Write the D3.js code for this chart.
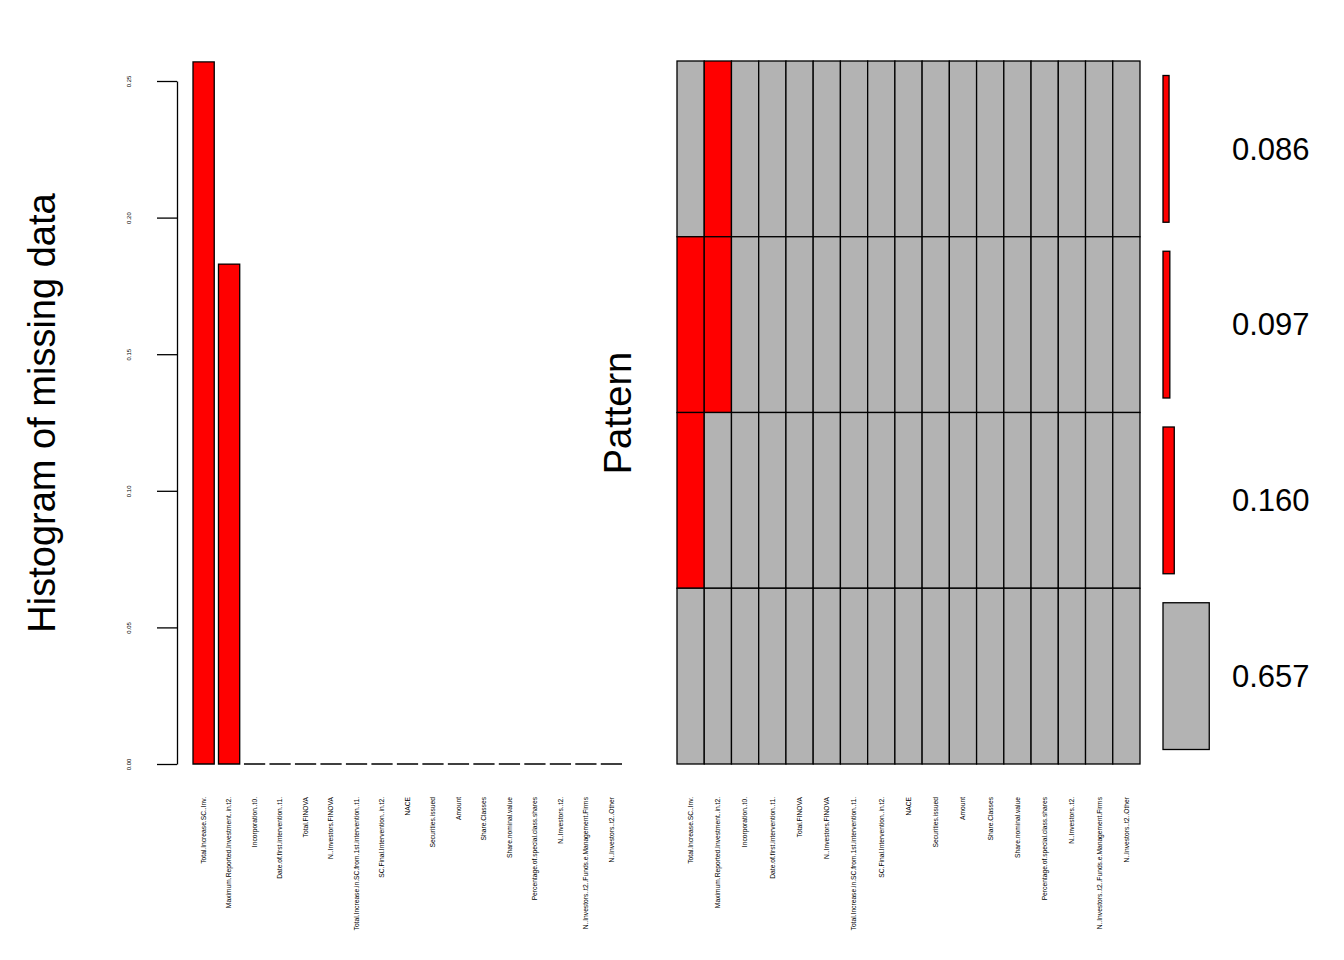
<!DOCTYPE html>
<html><head><meta charset="utf-8">
<script src="https://cdn.jsdelivr.net/npm/d3@7"></script>
<style>body{margin:0;background:#fff}svg{display:block}text{font-family:"Liberation Sans",Arial,Helvetica,sans-serif}</style>
</head><body><svg id="c" width="1344" height="960"></svg>
<script>
const variables = ["Total.Increase.SC..Inv.","Maximum.Reported.Investment..in.t2.","Incorporation..t0.","Date.of.first.intervention..t1.","Total.FINOVA","N..Investors.FINOVA","Total.Increase.in.SC.from.1st.intervention..t1.","SC.Final.Intervention..in.t2.","NACE","Securities.issued","Amount","Share.Classes","Share.nominal.value","Percentage.of.special.class.shares","N..Investors..t2.","N..Investors..t2..Funds.e.Management.Firms","N..Investors..t2..Other"];
const missProp = [0.257,0.183,0,0,0,0,0,0,0,0,0,0,0,0,0,0,0];
const yTicks = [0,0.05,0.10,0.15,0.20,0.25];
// missing patterns (1 = missing), top to bottom
const patterns = [
  [0,1,0,0,0,0,0,0,0,0,0,0,0,0,0,0,0],
  [1,1,0,0,0,0,0,0,0,0,0,0,0,0,0,0,0],
  [1,0,0,0,0,0,0,0,0,0,0,0,0,0,0,0,0],
  [0,0,0,0,0,0,0,0,0,0,0,0,0,0,0,0,0]
];
const patternProp = [0.086,0.097,0.160,0.657];
const patternLabels = ["0.086","0.097","0.160","0.657"];

const RED="#FF0000", GREY="#B3B3B3";
const svg = d3.select("#c");

// ---------- Left histogram ----------
const x = d3.scaleBand().domain(variables).range([193,622]).paddingInner(0.2/1.2).paddingOuter(0);
const y = d3.scaleLinear().domain([0,0.25]).range([764,81]);

svg.append("g").selectAll("path").data(variables).join("path")
  .attr("d", (d,i)=>{
    const p = d3.path(), x0 = x(d), w = x.bandwidth(), y0 = y(0), y1 = y(missProp[i]);
    p.moveTo(x0,y0); p.lineTo(x0,y1); p.lineTo(x0+w,y1); p.lineTo(x0+w,y0); p.closePath();
    return p.toString();
  })
  .attr("fill",RED).attr("stroke","#000").attr("stroke-width",1.3);

const yAxis = d3.axisLeft(y).tickValues(yTicks).tickFormat(d3.format(".2f")).tickSize(20).tickSizeOuter(0);
const ga = svg.append("g").attr("transform","translate(177,0)").call(yAxis);
ga.select(".domain").attr("stroke","#000").attr("stroke-width",1.3);
ga.selectAll(".tick line").attr("stroke","#000").attr("stroke-width",1.3);
ga.selectAll(".tick text").attr("font-size",6).attr("fill","#000")
  .attr("text-anchor","middle").attr("x",0)
  .attr("transform","translate(-48,0) rotate(-90)").attr("dy","0.35em");

svg.append("g").selectAll("text").data(variables).join("text")
  .attr("transform", d=>`translate(${x(d)+x.bandwidth()/2},797) rotate(-90)`)
  .attr("text-anchor","end").attr("dy","0.35em").attr("font-size",6.7).attr("fill","#000")
  .text(d=>d);

svg.append("text").attr("transform","translate(42,413) rotate(-90)")
  .attr("text-anchor","middle").attr("dy","0.35em").attr("font-size",38).text("Histogram of missing data");

// ---------- Right pattern ----------
const xp = d3.scaleBand().domain(variables).range([677,1140]);
const yp = d3.scaleBand().domain(d3.range(patterns.length)).range([61,764]);

const cells = [];
patterns.forEach((row,r)=>row.forEach((v,c)=>cells.push({r,c,v})));
svg.append("g").selectAll("rect").data(cells).join("rect")
  .attr("x",d=>xp(variables[d.c])).attr("y",d=>yp(d.r))
  .attr("width",xp.bandwidth()).attr("height",yp.bandwidth())
  .attr("fill",d=>d.v?RED:GREY).attr("stroke","#000").attr("stroke-width",1.3);

svg.append("g").selectAll("text").data(variables).join("text")
  .attr("transform", d=>`translate(${xp(d)+xp.bandwidth()/2},797) rotate(-90)`)
  .attr("text-anchor","end").attr("dy","0.35em").attr("font-size",6.7).attr("fill","#000")
  .text(d=>d);

svg.append("text").attr("transform","translate(618,413) rotate(-90)")
  .attr("text-anchor","middle").attr("dy","0.35em").attr("font-size",38).text("Pattern");

// proportion bars
const xw = d3.scaleLinear().domain([0,1]).range([0,70.4]);
const bh = yp.bandwidth()*0.835;
svg.append("g").selectAll("rect").data(patternProp).join("rect")
  .attr("x",1163).attr("width",d=>xw(d))
  .attr("y",(d,i)=>yp(i)+(yp.bandwidth()-bh)/2).attr("height",bh)
  .attr("fill",(d,i)=>patterns[i].some(v=>v)?RED:GREY)
  .attr("stroke","#000").attr("stroke-width",1.3);

svg.append("g").selectAll("text").data(patternLabels).join("text")
  .attr("x",1232).attr("y",(d,i)=>yp(i)+yp.bandwidth()/2).attr("dy","0.35em")
  .attr("font-size",31).attr("fill","#000").text(d=>d);
</script></body></html>
